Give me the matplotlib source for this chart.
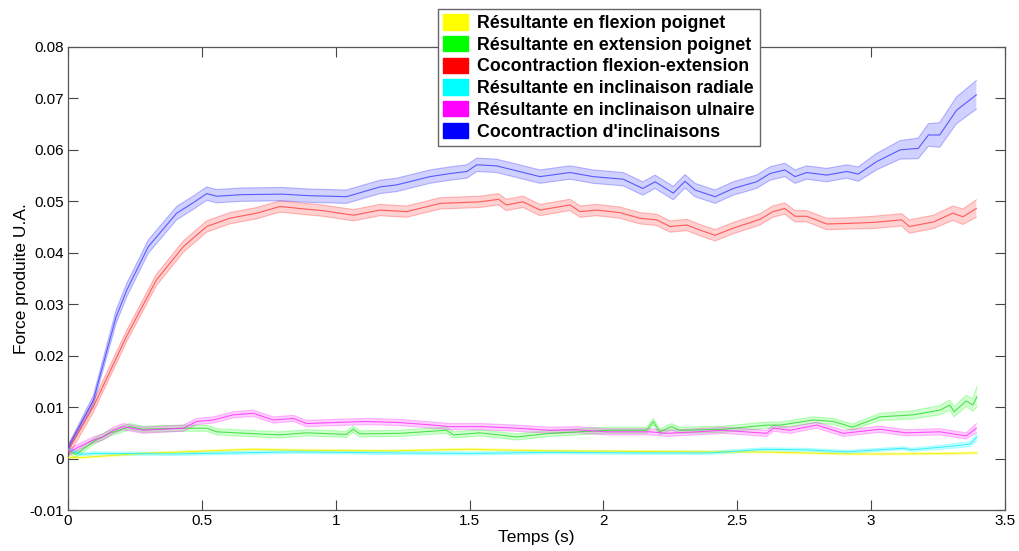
import matplotlib
matplotlib.use("Agg")
import matplotlib.pyplot as plt
from matplotlib.patches import Patch
import numpy as np

plt.rcParams['font.family'] = ['Liberation Sans', 'DejaVu Sans']

labels = ["Résultante en flexion poignet",
          "Résultante en extension poignet",
          "Cocontraction flexion-extension",
          "Résultante en inclinaison radiale",
          "Résultante en inclinaison ulnaire",
          "Cocontraction d'inclinaisons"]

# Yellow: flexion
t_flex = [0, 0.05, 0.28, 0.53, 0.692, 0.9, 1.2, 1.49, 1.8, 2.1, 2.4, 2.57, 2.75, 2.91, 3.1, 3.3, 3.395]
v_flex = [0.0002, 0.0002, 0.0010, 0.0015, 0.0018, 0.0016, 0.0015, 0.0018, 0.0015, 0.0014, 0.0013,
          0.0013, 0.0011, 0.0009, 0.0009, 0.0010, 0.0011]
e_flex = [0.0002] * 17

# Green: extension
t_ext = [0, 0.03, 0.095, 0.155, 0.23, 0.28, 0.43, 0.518, 0.555, 0.667, 0.79, 0.89, 1.04, 1.065, 1.09,
         1.24, 1.413, 1.44, 1.539, 1.676, 1.80, 2.012, 2.161, 2.186, 2.21, 2.255, 2.286, 2.448, 2.548,
         2.61, 2.66, 2.785, 2.86, 2.93, 3.032, 3.157, 3.256, 3.294, 3.31, 3.355, 3.38, 3.395]
v_ext = [0.0015, 0.0008, 0.0033, 0.0049, 0.0062, 0.0057, 0.0059, 0.0059, 0.0052, 0.0049, 0.0046,
         0.0050, 0.0047, 0.0057, 0.0048, 0.0049, 0.0055, 0.0046, 0.0050, 0.0042, 0.0049, 0.0055,
         0.0055, 0.0072, 0.0052, 0.0062, 0.0055, 0.0057, 0.0062, 0.0065, 0.0065, 0.0075, 0.0072,
         0.0061, 0.0081, 0.0085, 0.0094, 0.0104, 0.0091, 0.0112, 0.0104, 0.0120]
e_ext = [0.0006] * 34 + [0.0007, 0.0008, 0.0009, 0.0010, 0.0010, 0.0011, 0.0012, 0.0020]

# Red: cocontraction flexion-extension
t_cfe = [0, 0.095, 0.218, 0.33, 0.431, 0.518, 0.603, 0.705, 0.792, 0.867, 0.95, 1.066, 1.165, 1.265,
         1.39, 1.539, 1.608, 1.637, 1.70, 1.763, 1.875, 1.913, 1.975, 2.062, 2.137, 2.199, 2.249,
         2.311, 2.361, 2.417, 2.485, 2.585, 2.633, 2.677, 2.716, 2.759, 2.834, 2.909, 3.008, 3.114,
         3.143, 3.233, 3.305, 3.343, 3.393]
v_cfe = [0.0015, 0.0101, 0.0237, 0.0347, 0.0412, 0.0451, 0.0467, 0.0477, 0.0490, 0.0486, 0.0482,
         0.0473, 0.0483, 0.0480, 0.0496, 0.0499, 0.0504, 0.0493, 0.0499, 0.0483, 0.0493, 0.0480,
         0.0483, 0.0478, 0.0467, 0.0464, 0.0451, 0.0454, 0.0444, 0.0434, 0.0448, 0.0465, 0.0480,
         0.0486, 0.0471, 0.0471, 0.0456, 0.0457, 0.0459, 0.0464, 0.0451, 0.0460, 0.0477, 0.0470,
         0.0486]
e_cfe = [0.0011] * 38 + [0.0012, 0.0012, 0.0013, 0.0013, 0.0014, 0.0015, 0.0017]

# Cyan: inclinaison radiale
t_rad = [0, 0.026, 0.05, 0.095, 0.4, 0.85, 1.2, 1.5, 1.8, 2.1, 2.4, 2.6, 2.75, 2.91, 3.03, 3.12, 3.15,
         3.28, 3.37, 3.395]
v_rad = [0.0020, 0.0013, 0.0008, 0.0010, 0.0009, 0.0013, 0.0011, 0.0010, 0.0012, 0.0011, 0.0011,
         0.0018, 0.0017, 0.0013, 0.0017, 0.0020, 0.0017, 0.0023, 0.0028, 0.0042]
e_rad = [0.0003] * 16 + [0.0003, 0.0004, 0.0005, 0.0007]

# Magenta: inclinaison ulnaire
t_uln = [0, 0.007, 0.05, 0.095, 0.13, 0.17, 0.207, 0.281, 0.35, 0.431, 0.48, 0.543, 0.617, 0.692,
         0.767, 0.842, 0.892, 0.991, 1.116, 1.24, 1.365, 1.427, 1.549, 1.676, 1.80, 1.90, 2.012,
         2.174, 2.236, 2.35, 2.448, 2.61, 2.635, 2.697, 2.797, 2.896, 3.032, 3.131, 3.256, 3.355,
         3.393]
v_uln = [0.0020, 0.0013, 0.0025, 0.0036, 0.0042, 0.0055, 0.0062, 0.0055, 0.0057, 0.0059, 0.0072,
         0.0075, 0.0085, 0.0088, 0.0075, 0.0078, 0.0068, 0.0070, 0.0072, 0.0070, 0.0065, 0.0062,
         0.0062, 0.0059, 0.0055, 0.0056, 0.0052, 0.0052, 0.0049, 0.0052, 0.0055, 0.0049, 0.0059,
         0.0055, 0.0065, 0.0049, 0.0057, 0.0050, 0.0052, 0.0044, 0.0059]
e_uln = [0.0010] + [0.0006] * 39 + [0.0009]

# Blue: cocontraction d'inclinaisons
t_cin = [0, 0.095, 0.18, 0.22, 0.30, 0.406, 0.47, 0.518, 0.555, 0.65, 0.8, 0.9, 1.04, 1.165, 1.228,
         1.352, 1.427, 1.49, 1.527, 1.60, 1.663, 1.763, 1.875, 1.962, 2.074, 2.147, 2.193, 2.261,
         2.305, 2.342, 2.417, 2.485, 2.572, 2.622, 2.678, 2.716, 2.759, 2.834, 2.909, 2.952, 3.02,
         3.108, 3.176, 3.214, 3.256, 3.319, 3.393]
v_cin = [0.0020, 0.0114, 0.0276, 0.0328, 0.0412, 0.0477, 0.0498, 0.0515, 0.0510, 0.0513, 0.0514,
         0.0511, 0.0509, 0.0528, 0.0532, 0.0548, 0.0554, 0.0558, 0.0571, 0.0569, 0.0561, 0.0548,
         0.0556, 0.0548, 0.0543, 0.0525, 0.0538, 0.0516, 0.0539, 0.0522, 0.0509, 0.0525, 0.0538,
         0.0554, 0.0561, 0.0548, 0.0556, 0.0551, 0.0558, 0.0553, 0.0577, 0.0600, 0.0603, 0.0629,
         0.0629, 0.0677, 0.0707]
e_cin = [0.0005, 0.0009] + [0.0013] * 37 + [0.0014, 0.0016, 0.0018, 0.0020, 0.0022, 0.0024, 0.0026, 0.0028]

x_ticks = [0, 0.5, 1, 1.5, 2, 2.5, 3, 3.5]
x_tick_labels = ["0", "0.5", "1", "1.5", "2", "2.5", "3", "3.5"]
y_ticks = [-0.01, 0, 0.01, 0.02, 0.03, 0.04, 0.05, 0.06, 0.07, 0.08]
y_tick_labels = ["-0.01", "0", "0.01", "0.02", "0.03", "0.04", "0.05", "0.06", "0.07", "0.08"]

series = [
    (t_flex, v_flex, e_flex, "#ffff00", "#f0f000"),
    (t_ext, v_ext, e_ext, "#00ff00", "#33dd33"),
    (t_cfe, v_cfe, e_cfe, "#ff0000", "#ff4444"),
    (t_rad, v_rad, e_rad, "#00ffff", "#22eeff"),
    (t_uln, v_uln, e_uln, "#ff00ff", "#ff33ff"),
    (t_cin, v_cin, e_cin, "#0000ff", "#4444ff"),
]
legend_colors = ["#ffff00", "#00ff00", "#ff0000", "#00ffff", "#ff00ff", "#0000ff"]

fig = plt.figure(figsize=(10.19, 5.51), dpi=100)
ax = fig.add_axes([68 / 1019, 41 / 551, (1005 - 68) / 1019, (510 - 47) / 551])

for t, v, e, fc, lc in series:
    t = np.asarray(t); v = np.asarray(v); e = np.asarray(e)
    ax.fill_between(t, v - e, v + e, facecolor=fc, alpha=0.18, edgecolor='none', zorder=2)
    ax.plot(t, v - e, color=fc, alpha=0.25, lw=0.8, zorder=2)
    ax.plot(t, v + e, color=fc, alpha=0.25, lw=0.8, zorder=2)
    ax.plot(t, v, color=lc, lw=0.8, alpha=0.85, zorder=3)

ax.set_xlim(0, 3.5)
ax.set_ylim(-0.01, 0.08)
ax.set_xticks(x_ticks)
ax.set_xticklabels(x_tick_labels)
ax.set_yticks(y_ticks)
ax.set_yticklabels(y_tick_labels)
ax.tick_params(direction='in', top=True, right=True, length=7, width=0.8,
               colors='#444444', labelcolor='black', labelsize=11, pad=3)
for s in ax.spines.values():
    s.set_color('#555555')
    s.set_linewidth(0.9)

ax.set_xlabel("Temps (s)", fontsize=12.5, labelpad=1)
ax.set_ylabel("Force produite U.A.", fontsize=12.5, labelpad=0)

handles = [Patch(facecolor=c, edgecolor=c) for c in legend_colors]
leg = fig.legend(handles, labels, loc='upper left', bbox_to_anchor=(438 / 1019, 1 - 9 / 551),
                 prop={'weight': 'bold', 'size': 12.8}, frameon=True, fancybox=False,
                 edgecolor='#666666', framealpha=1, handlelength=1.4, handleheight=0.95,
                 handletextpad=0.5, labelspacing=0.22, borderpad=0.3, borderaxespad=0)
leg.get_frame().set_linewidth(1.0)
leg.set_zorder(10)

fig.savefig("out.png", dpi=100)
